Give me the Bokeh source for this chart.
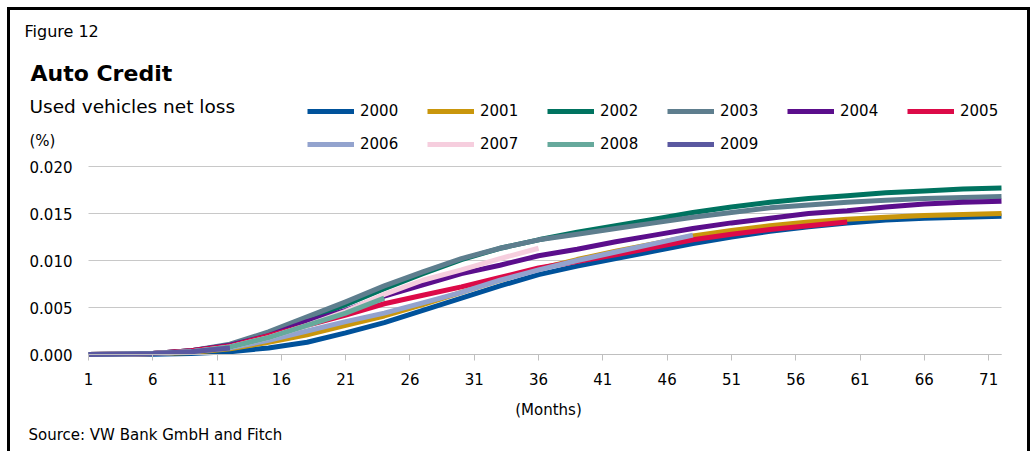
from bokeh.plotting import figure
from bokeh.models import (Range1d, FixedTicker, NumeralTickFormatter, Label,
                          Legend, LegendItem, InlineStyleSheet)
from bokeh.embed import file_html
from bokeh.resources import INLINE

# Months on book at which each vintage's cumulative net loss is sampled
months = [1, 3, 6, 9, 12, 15, 18, 21, 24, 27, 30, 33, 36, 39, 42, 45, 48,
          51, 54, 57, 60, 63, 66, 69, 72]

# Cumulative net loss by vintage year (%)
loss_2000 = [0.0, 0.0, 0.00003, 0.0001, 0.0003, 0.0007, 0.0013, 0.0023, 0.0034,
             0.0047, 0.0060, 0.0073, 0.0085, 0.0094, 0.0102, 0.0110, 0.0118,
             0.0125, 0.0131, 0.0136, 0.0140, 0.0143, 0.0145, 0.0146, 0.0147]
loss_2001 = [0.0, 0.00002, 0.0001, 0.0002, 0.0006, 0.0013, 0.0021, 0.0031, 0.0041,
             0.0053, 0.0066, 0.0079, 0.0091, 0.0101, 0.0110, 0.0118, 0.0126,
             0.0132, 0.0137, 0.0141, 0.0144, 0.0146, 0.0148, 0.0149, 0.0150]
loss_2002 = [0.0, 0.00003, 0.0001, 0.0004, 0.0010, 0.0022, 0.0037, 0.0053, 0.0070,
             0.0086, 0.0101, 0.0113, 0.0122, 0.0130, 0.0137, 0.0144, 0.0151,
             0.0157, 0.0162, 0.0166, 0.0169, 0.0172, 0.0174, 0.0176, 0.0177]
loss_2003 = [0.0, 0.00003, 0.0001, 0.0004, 0.0011, 0.0024, 0.0040, 0.0056, 0.0073,
             0.0088, 0.0102, 0.0113, 0.0122, 0.0128, 0.0134, 0.0140, 0.0146,
             0.0151, 0.0156, 0.0159, 0.0162, 0.0164, 0.0166, 0.0167, 0.0168]
loss_2004 = [0.0, 0.00003, 0.0001, 0.0004, 0.0010, 0.0020, 0.0035, 0.0047, 0.0062,
             0.0074, 0.0086, 0.0095, 0.0105, 0.0112, 0.0120, 0.0127, 0.0134,
             0.0140, 0.0145, 0.0150, 0.0153, 0.0157, 0.0160, 0.0162, 0.0163]
loss_2005 = [0.0, 0.00002, 0.0001, 0.0004, 0.0009, 0.0020, 0.0031, 0.0042, 0.0054,
             0.0063, 0.0072, 0.0082, 0.0092, 0.0099, 0.0106, 0.0114, 0.0122,
             0.0128, 0.0133, 0.0137, 0.0141]
loss_2006 = [0.0, 0.00002, 0.0001, 0.0003, 0.0007, 0.0015, 0.0025, 0.0035, 0.0044,
             0.0055, 0.0066, 0.0079, 0.0090, 0.0100, 0.0109, 0.0118, 0.0127]
loss_2007 = [0.0, 0.00002, 0.0001, 0.0003, 0.0008, 0.0018, 0.0031, 0.0046, 0.0064,
             0.0079, 0.0090, 0.0102, 0.0113]
loss_2008 = [0.0, 0.00002, 0.0001, 0.0003, 0.0008, 0.0018, 0.0031, 0.0044, 0.0060]
loss_2009 = [0.0, 0.00002, 0.0001, 0.0003, 0.0007]

years = ["2000", "2001", "2002", "2003", "2004",
         "2005", "2006", "2007", "2008", "2009"]
series = [loss_2000, loss_2001, loss_2002, loss_2003, loss_2004,
          loss_2005, loss_2006, loss_2007, loss_2008, loss_2009]
colors = ["#00529B", "#C9960C", "#007360", "#5E7E8E", "#5B0E8C",
          "#DC0A48", "#93A3CE", "#F6CEDE", "#66A99C", "#5A58A0"]

x_ticks = [1, 6, 11, 16, 21, 26, 31, 36, 41, 46, 51, 56, 61, 66, 71]
y_ticks = [0.0, 0.005, 0.010, 0.015, 0.020]
x_lo, x_hi = 1, 72
y_lo, y_hi = 0.0, 0.020

FONT = "DejaVu Sans"
W, H = 1034, 451
# Canvas pixels of the chart area (left, right, top, bottom); the plot frame
# covers the whole canvas so that headings and legend share one drawing area.
AREA_L, AREA_R, AREA_T, AREA_B = 88, 1001, 166, 354
px_x = (AREA_R - AREA_L) / (x_hi - x_lo)
px_y = (AREA_B - AREA_T) / (y_hi - y_lo)
x_range = Range1d(x_lo - AREA_L / px_x, x_hi + (W - AREA_R) / px_x)
y_range = Range1d(y_lo - (H - AREA_B) / px_y, y_hi + AREA_T / px_y)

frame_css = InlineStyleSheet(css="""
:host { position: relative; }
:host::after {
  content: '';
  position: absolute;
  left: 7px; top: 7px;
  width: 1017px; height: 441px;
  border: 3px solid #000;
  border-bottom: none;
  pointer-events: none;
}
""")

p = figure(width=W, height=H, output_backend="svg", toolbar_location=None,
           x_range=x_range, y_range=y_range, min_border=0,
           stylesheets=[frame_css])
p.outline_line_color = None
p.background_fill_color = "white"
p.border_fill_color = "white"
p.xgrid.visible = False
p.ygrid.visible = False

# Horizontal gridlines across the chart area only
p.segment(x0=x_lo, x1=x_hi, y0=y_ticks, y1=y_ticks,
          line_color="#C8C8C8", line_width=1)

# Axes pinned to the chart area
p.xaxis.fixed_location = y_lo
p.xaxis.bounds = (x_lo, x_hi)
p.xaxis.ticker = FixedTicker(ticks=x_ticks)
p.xaxis.axis_line_color = "#BFBFBF"
p.xaxis.major_tick_line_color = "#BFBFBF"
p.xaxis.major_tick_out = 6
p.xaxis.major_tick_in = 0
p.xaxis.minor_tick_line_color = None
p.xaxis.major_label_standoff = 12
p.xaxis.major_label_text_font = FONT
p.xaxis.major_label_text_font_size = "15px"
p.xaxis.major_label_text_color = "#000000"

p.yaxis.fixed_location = x_lo
p.yaxis.bounds = (y_lo, y_hi)
p.yaxis.ticker = FixedTicker(ticks=y_ticks)
p.yaxis.formatter = NumeralTickFormatter(format="0.000")
p.yaxis.axis_line_color = None
p.yaxis.major_tick_line_color = None
p.yaxis.minor_tick_line_color = None
p.yaxis.major_tick_out = 0
p.yaxis.major_tick_in = 0
p.yaxis.major_label_standoff = 16
p.yaxis.major_label_text_font = FONT
p.yaxis.major_label_text_font_size = "15px"
p.yaxis.major_label_text_color = "#000000"

# Vintage curves; later vintages are drawn on top
items = []
for year, vals, col in zip(years, series, colors):
    r = p.line(months[:len(vals)], vals, line_color=col, line_width=5,
               line_join="round")
    items.append(LegendItem(label=year, renderers=[r]))


def legend_row(row_items, center_y):
    # one horizontal row of legend entries, placed by its canvas centre line
    leg = Legend(items=row_items, orientation="horizontal",
                 location=(307, H - center_y - 10),
                 glyph_width=47, glyph_height=20, label_height=20,
                 label_width=54, label_standoff=6, spacing=13, padding=0,
                 margin=0, border_line_color=None, background_fill_alpha=0,
                 label_text_font=FONT, label_text_font_size="15px",
                 label_text_color="#000000")
    p.add_layout(leg, "center")


legend_row(items[:6], 111)
legend_row(items[6:], 144)


# Heading, axis title and footnote texts, given by their canvas position
def add_text(txt, cx, cy, size, style="normal", align="left"):
    p.add_layout(Label(x=cx, y=H - cy, x_units="screen", y_units="screen",
                       text=txt, text_font=FONT, text_font_size=size,
                       text_font_style=style, text_color="#000000",
                       text_baseline="middle", text_align=align))


add_text("Figure 12", 24, 31, "16px")
add_text("Auto Credit", 30, 73, "22px", "bold")
add_text("Used vehicles net loss", 29, 106, "18.5px")
add_text("(%)", 29, 140, "15px")
add_text("(Months)", 548, 409, "15px", align="center")
add_text("Source: VW Bank GmbH and Fitch", 28, 434, "15px")

open("out.html", "w").write(file_html(p, INLINE))
